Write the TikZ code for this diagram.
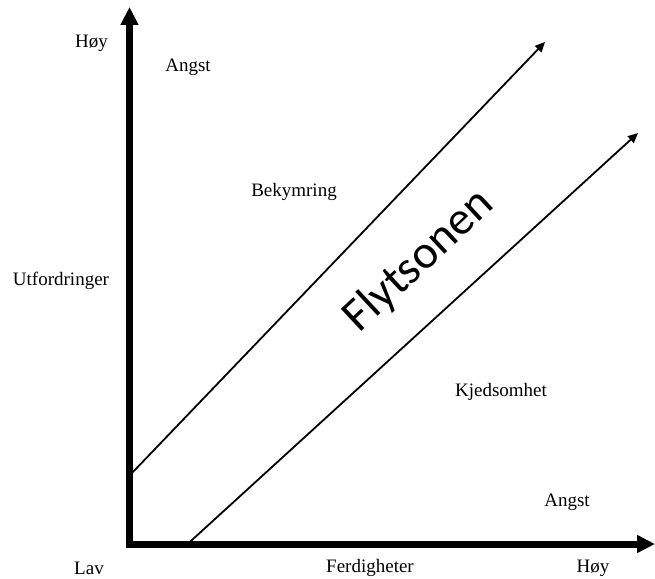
\documentclass[tikz,border=0pt]{standalone}
\usepackage{fontspec}
\setmainfont{Liberation Serif}
\newfontfamily\flowfont{Carlito}
\usetikzlibrary{arrows.meta}
\begin{document}
\begin{tikzpicture}[x=1pt,y=-1pt,
  lbl/.style={font=\fontsize{19}{22}\selectfont, inner sep=0pt},
  axisline/.style={line width=7pt, -{Triangle[width=17pt,length=18pt]}},
  zoneline/.style={line width=1.8pt, -{Triangle[width=9pt,length=10pt]}}]
\useasboundingbox (0,0) rectangle (655,578);
% coordinates
\coordinate (ytop) at (129.5,7);
\coordinate (ybot) at (129.5,548);
\coordinate (xend) at (655,544);
\coordinate (ostart) at (126,544);
\coordinate (u1) at (129.5,475.6);
\coordinate (u2) at (545,42);
\coordinate (l1) at (187.6,544);
\coordinate (l2) at (638,133);
% zone lines
\draw[zoneline] (u1) -- (u2);
\draw[zoneline] (l1) -- (l2);
% axes
\draw[axisline] (ybot) -- (ytop);
\draw[axisline] (ostart) -- (xend);
% labels
\node[lbl] (hoyy) at (91.5,43) {Høy};
\node[lbl] (angst1) at (188,67) {Angst};
\node[lbl] (bek) at (294,192) {Bekymring};
\node[lbl] (utf) at (61,281) {Utfordringer};
\node[lbl] (kjed) at (501,392) {Kjedsomhet};
\node[lbl] (angst2) at (567,502) {Angst};
\node[lbl] (lav) at (89,568) {Lav};
\node[lbl] (ferd) at (370,568) {Ferdigheter};
\node[lbl] (hoyx) at (593,568) {Høy};
\node[font=\flowfont\fontsize{47}{56}\selectfont, rotate=43, inner sep=0pt] (flyt) at (419,261) {Flytsonen};
\end{tikzpicture}
\end{document}
